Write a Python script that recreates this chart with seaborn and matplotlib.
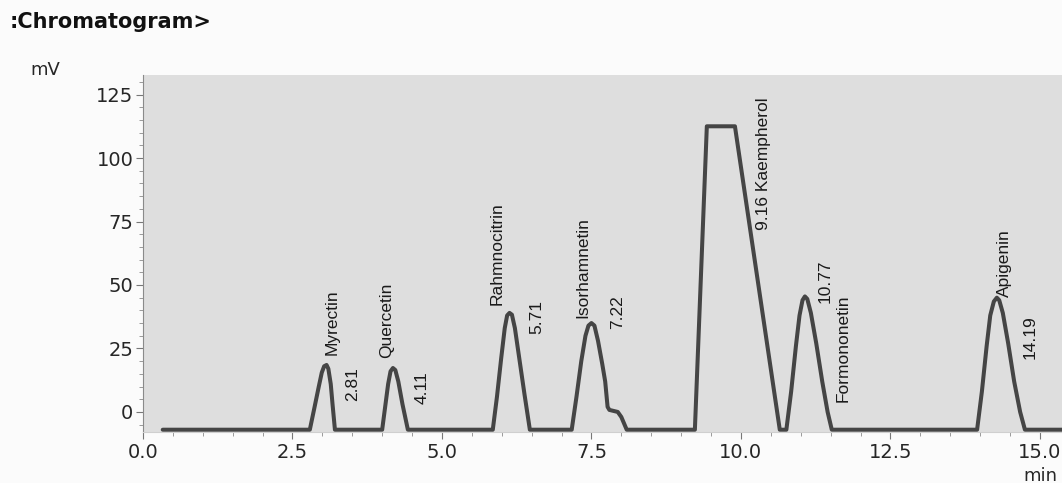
import matplotlib
matplotlib.use("Agg")
import matplotlib.pyplot as plt
import seaborn as sns
import pandas as pd
from matplotlib.ticker import MultipleLocator

# trace of the chromatogram (time in min, signal in mV)
time_min = [0.33,
            2.79, 2.87, 2.94, 2.99, 3.03, 3.07, 3.10, 3.14, 3.17, 3.21,
            4.00, 4.05, 4.10, 4.14, 4.18, 4.22, 4.27, 4.34, 4.43,
            5.85, 5.92, 5.99, 6.05, 6.09, 6.13, 6.17, 6.22, 6.30, 6.38, 6.47,
            7.17, 7.25, 7.33, 7.40, 7.45, 7.50, 7.55, 7.61, 7.68, 7.73, 7.77,
            7.80, 7.94, 8.00, 8.09,
            9.23, 9.43, 9.90, 10.65,
            10.76, 10.84, 10.92, 10.98, 11.03, 11.07, 11.11, 11.17, 11.26,
            11.36, 11.45, 11.52,
            13.95, 14.03, 14.11, 14.17, 14.23, 14.28, 14.32, 14.38, 14.47,
            14.57, 14.67, 14.75,
            15.37]
signal_mv = [-7,
             -7, 2, 10, 15.5, 18, 18.5, 17, 11, 3, -7,
             -7, 2, 11, 16, 17.3, 16.5, 12, 3, -7,
             -7, 6, 21, 33, 38, 39, 38.3, 33, 20, 7, -7,
             -7, 6, 20, 30, 34, 35, 34, 28, 19, 12, 2,
             0.8, 0, -2, -7,
             -7, 112.5, 112.5, -7,
             -7, 8, 26, 38, 44, 45.5, 44.5, 39, 27,
             12, 0, -7,
             -7, 8, 26, 38, 43.5, 45, 44, 39, 27,
             12, 0, -7,
             -7]

# peak name labels (x in min, bottom of text in mV)
names = ["Myrectin", "Quercetin", "Rahmnocitrin", "Isorhamnetin", "Apigenin"]
name_x = [3.16, 4.08, 5.92, 7.36, 14.41]
name_y = [22.4, 21.3, 42.0, 37.0, 45.3]

# retention time labels (centre of text)
rt_labels = ["2.81", "4.11", "5.71", "7.22", "10.77", "14.19"]
rt_x = [3.51, 4.67, 6.59, 7.93, 11.40, 14.83]
rt_y = [11.0, 9.5, 37.4, 39.4, 51.6, 29.5]

sns.set_style("white")
plt.rcParams["font.family"] = ["DejaVu Sans"]
label_font = ["Liberation Sans Narrow", "Liberation Sans", "DejaVu Sans"]

df = pd.DataFrame({"time": time_min, "mV": signal_mv})

fig = plt.figure(figsize=(10.62, 4.83), dpi=100)
fig.patch.set_facecolor("#fbfbfb")
ax = fig.add_axes([143 / 1062, 51 / 483, 919 / 1062, 357 / 483])
ax.set_facecolor("#dedede")

sns.lineplot(data=df, x="time", y="mV", ax=ax, color="#454545",
             linewidth=2.9, estimator=None, sort=False)

ax.set_xlim(0, 15.37)
ax.set_ylim(-7.9, 132.7)
ax.xaxis.set_major_locator(MultipleLocator(2.5))
ax.xaxis.set_minor_locator(MultipleLocator(0.5))
ax.yaxis.set_major_locator(MultipleLocator(25))
ax.yaxis.set_minor_locator(MultipleLocator(5))
ax.set_xticks(ax.get_xticks())
ax.set_xticklabels([f"{v:.1f}" for v in ax.get_xticks()])
ax.set_xlim(0, 15.37)
ax.set_xlabel("")
ax.set_ylabel("")
ax.tick_params(axis="both", which="major", direction="out", length=5,
               width=0.8, color="#777777", labelsize=14, labelcolor="#262626")
ax.tick_params(axis="both", which="minor", direction="out", length=3,
               width=0.7, color="#999999")
ax.tick_params(axis="y", which="both", left=True, pad=2)
ax.tick_params(axis="x", which="both", bottom=True, pad=3)

for side in ["top", "right"]:
    ax.spines[side].set_visible(False)
ax.spines["left"].set_color("#8a8a8a")
ax.spines["left"].set_linewidth(0.8)
ax.spines["bottom"].set_color("#cfcfcf")
ax.spines["bottom"].set_linewidth(0.8)

for txt, x, y in zip(names, name_x, name_y):
    ax.text(x, y, txt, rotation=90, ha="center", va="bottom", fontsize=12.5,
            family=label_font, color="#1a1a1a")
for txt, x, y in zip(rt_labels, rt_x, rt_y):
    ax.text(x, y, txt, rotation=90, ha="center", va="center", fontsize=12.5,
            family=label_font, color="#1a1a1a")
ax.text(11.71, 25.2, "Formononetin", rotation=90, ha="center", va="center",
        fontsize=12.5, family=label_font, color="#1a1a1a")
ax.text(10.37, 124.0, "9.16 Kaempherol", rotation=90, ha="center", va="top",
        fontsize=12.5, family=label_font, color="#1a1a1a")

fig.text(10 / 1062, 1 - 22 / 483, ":Chromatogram>", ha="left", va="center",
         fontsize=15, fontweight="bold", color="#111111")
fig.text(45 / 1062, 1 - 70 / 483, "mV", ha="center", va="center",
         fontsize=13, color="#262626")
fig.text(1040 / 1062, 1 - 476 / 483, "min", ha="center", va="center",
         fontsize=13, color="#262626")

fig.savefig("out.png", dpi=100, facecolor=fig.get_facecolor())
